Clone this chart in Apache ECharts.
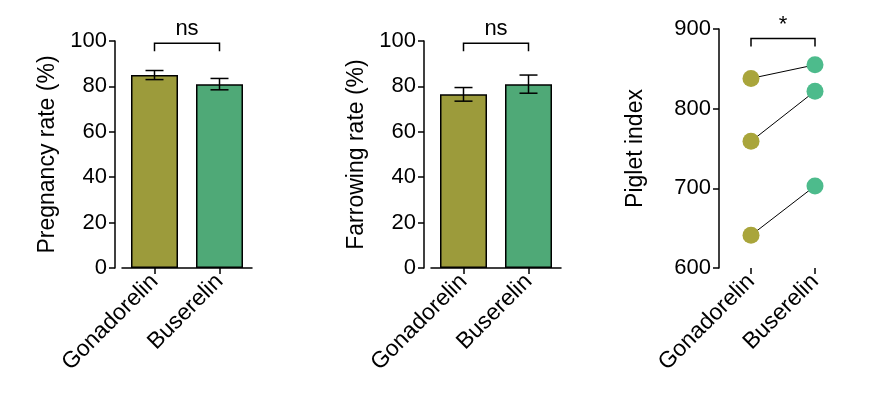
<!DOCTYPE html>
<html><head><meta charset="utf-8">
<script src="https://cdn.jsdelivr.net/npm/echarts@6/dist/echarts.min.js"></script>
<style>html,body{margin:0;background:#fff}#c{width:876px;height:411px}</style>
</head><body><div id="c"></div>
<script>
const groups = ['Gonadorelin', 'Buserelin'];
const pregnancyMean = [85, 81];
const pregnancyErr = [2, 2.5];
const farrowingMean = [76.5, 81];
const farrowingErr = [3, 4];
const pigletGonadorelin = [838, 759, 641];
const pigletBuserelin = [855, 822, 703];
const barColors = ['#9c9b3b', '#4fa977'];
const dotColors = ['#a9a53b', '#4dbb8c'];

const chart = echarts.init(document.getElementById('c'));
const font = 'Liberation Sans, Arial';

function yAxis(i, name, min, max, interval) {
  return {
    gridIndex: i, type: 'value', min: min, max: max, interval: interval, offset: i === 2 ? 0 : 7,
    name: name, nameLocation: 'middle', nameGap: i === 2 ? 72 : 56,
    nameTextStyle: { fontSize: 23, color: '#000', fontFamily: font },
    axisLine: { show: true, lineStyle: { color: '#000', width: 1.5 } },
    axisTick: { show: true, length: 6, lineStyle: { color: '#000', width: 1.5 } },
    axisLabel: { fontSize: 22, color: '#000', fontFamily: font },
    splitLine: { show: false }
  };
}
function xAxis(i) {
  return {
    gridIndex: i, type: 'category', data: groups,
    axisLine: { show: i !== 2, lineStyle: { color: '#000', width: 1.5 } },
    axisTick: { show: true, alignWithLabel: true, length: 6, lineStyle: { color: '#000', width: 1.5 } },
    axisLabel: { rotate: 45, fontSize: 23, color: '#000', fontFamily: font, margin: 10, interval: 0 }
  };
}
function errSeries(i, mean, err) {
  return {
    type: 'custom', xAxisIndex: i, yAxisIndex: i, z: 5,
    data: mean.map((m, k) => [k, m - err[k], m + err[k]]),
    renderItem: (p, api) => {
      const lo = api.coord([api.value(0), api.value(1)]);
      const hi = api.coord([api.value(0), api.value(2)]);
      const w = 9;
      const s = { stroke: '#000', lineWidth: 1.5 };
      return { type: 'group', children: [
        { type: 'line', shape: { x1: hi[0], y1: lo[1], x2: hi[0], y2: hi[1] }, style: s },
        { type: 'line', shape: { x1: hi[0] - w, y1: hi[1], x2: hi[0] + w, y2: hi[1] }, style: s },
        { type: 'line', shape: { x1: lo[0] - w, y1: lo[1], x2: lo[0] + w, y2: lo[1] }, style: s }
      ] };
    }
  };
}
function bracket(i, y, drop, label) {
  return {
    type: 'custom', xAxisIndex: i, yAxisIndex: i, clip: false, z: 5,
    data: [[0, y]],
    renderItem: (p, api) => {
      const a = api.coord([0, api.value(1)]);
      const b = api.coord([1, api.value(1)]);
      const s = { stroke: '#000', lineWidth: 1.5, fill: null };
      return { type: 'group', children: [
        { type: 'polyline', shape: { points: [[a[0], a[1] + drop], a, b, [b[0], b[1] + drop]] }, style: s },
        { type: 'text', x: (a[0] + b[0]) / 2, y: a[1] - 3, style: { text: label, fill: '#000', font: '22px ' + font, align: 'center', verticalAlign: 'bottom' } }
      ] };
    }
  };
}
function bars(i, mean) {
  return {
    type: 'bar', xAxisIndex: i, yAxisIndex: i, barWidth: 47,
    data: mean.map((v, k) => ({ value: v, itemStyle: { color: barColors[k] } })),
    itemStyle: { borderColor: '#000', borderWidth: 1.5 }
  };
}

const pairs = pigletGonadorelin.map((g, k) => ({
  type: 'line', xAxisIndex: 2, yAxisIndex: 2, symbol: 'circle', symbolSize: 17,
  lineStyle: { color: '#000', width: 1 },
  data: [{ value: g, itemStyle: { color: dotColors[0] } }, { value: pigletBuserelin[k], itemStyle: { color: dotColors[1] } }]
}));

chart.setOption({
  animation: false,
  grid: [
    { left: 122, width: 130, top: 41, bottom: 143 },
    { left: 431, width: 130, top: 41, bottom: 143 },
    { left: 719, width: 128, top: 29, bottom: 143 }
  ],
  xAxis: [xAxis(0), xAxis(1), xAxis(2)],
  yAxis: [yAxis(0, 'Pregnancy rate (%)', 0, 100, 20), yAxis(1, 'Farrowing rate (%)', 0, 100, 20), yAxis(2, 'Piglet index', 600, 900, 100)],
  series: [
    bars(0, pregnancyMean), errSeries(0, pregnancyMean, pregnancyErr), bracket(0, 99, 8, 'ns'),
    bars(1, farrowingMean), errSeries(1, farrowingMean, farrowingErr), bracket(1, 99, 8, 'ns'),
    ...pairs, bracket(2, 888, 8, '*')
  ]
});
</script></body></html>
